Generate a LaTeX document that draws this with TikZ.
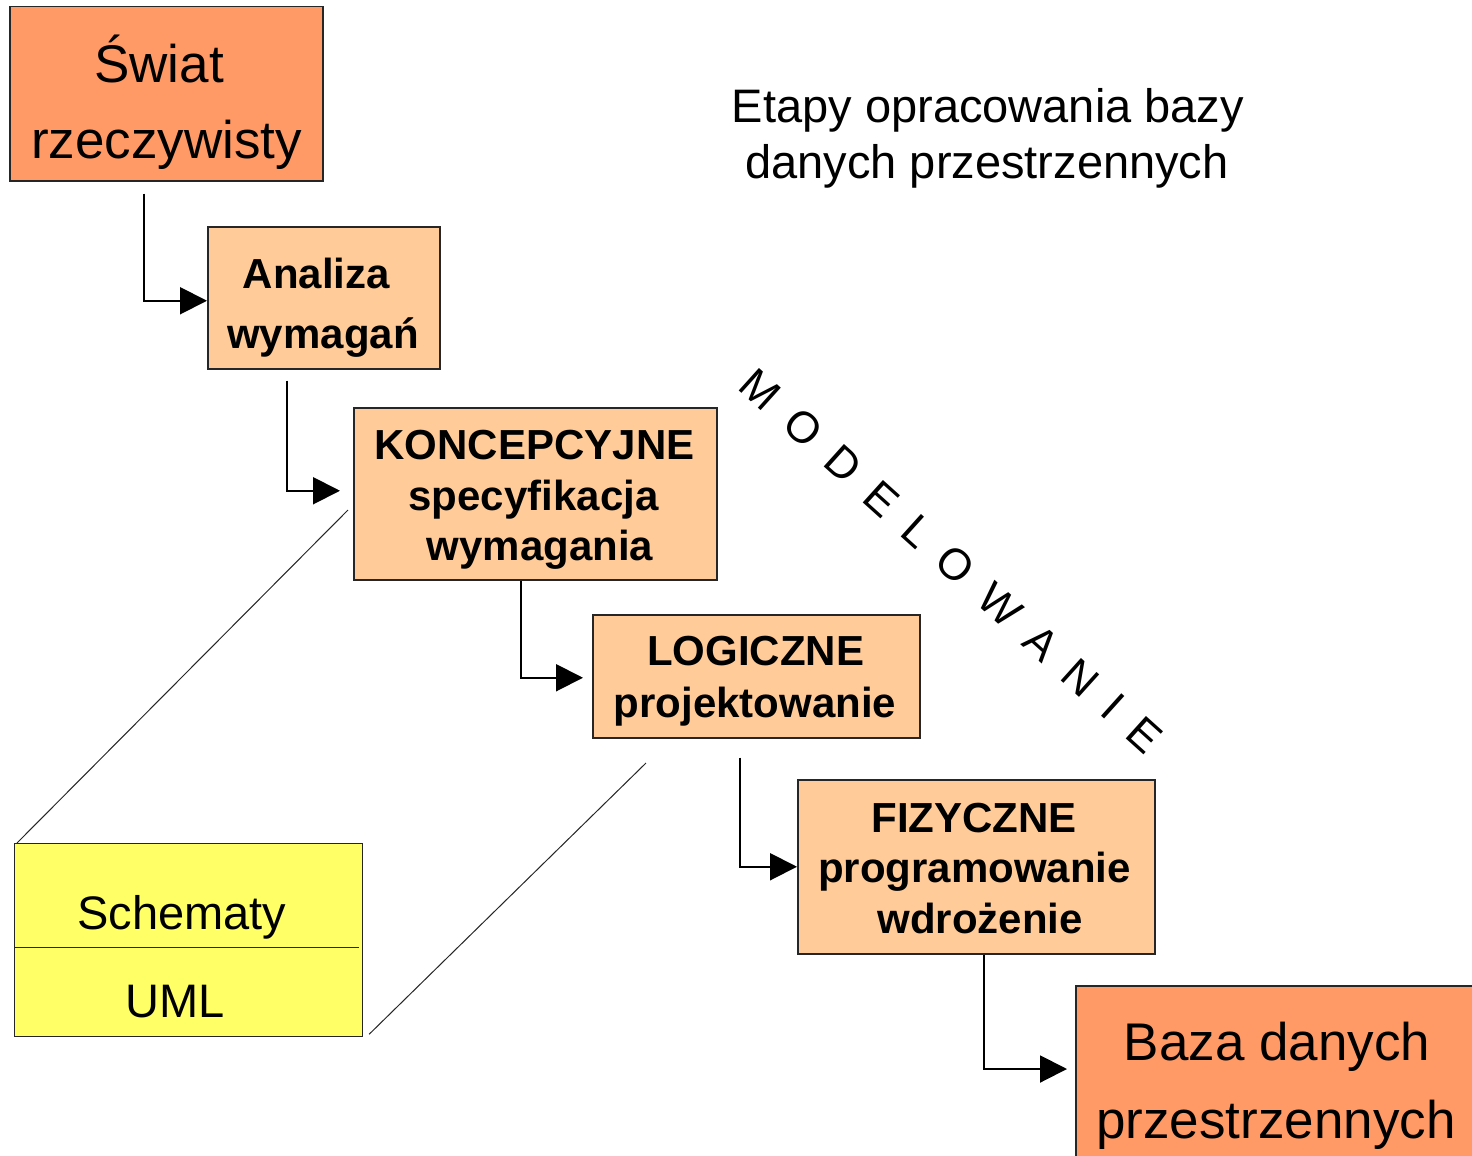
\documentclass[tikz,border=0pt]{standalone}
\usepackage{fontspec}
\setmainfont{Liberation Sans}
\usetikzlibrary{arrows.meta}
\definecolor{darkor}{HTML}{FF9966}
\definecolor{lightor}{HTML}{FFCC99}
\definecolor{yel}{HTML}{FFFF66}
\newcommand\mgap{\hspace{21.4pt}}
\tikzset{
  boxbase/.style={draw=black!85, line width=1.5pt, anchor=north west, inner sep=0pt, rectangle},
  darkbox/.style={boxbase, fill=darkor},
  lightbox/.style={boxbase, fill=lightor},
  yelbox/.style={boxbase, fill=yel, line width=1.2pt},
  conn/.style={line width=2pt, black, -{Triangle[length=27pt,width=27pt]}},
  thin/.style={line width=1pt, black!85},
  bigtxt/.style={anchor=base, inner sep=0pt, font=\fontsize{53}{60}\selectfont},
  boldtxt/.style={anchor=base, inner sep=0pt, font=\fontsize{42}{50}\selectfont\bfseries},
  titletxt/.style={anchor=base, inner sep=0pt, font=\fontsize{47}{56}\selectfont},
  yeltxt/.style={anchor=base, inner sep=0pt, font=\fontsize{47}{56}\selectfont},
}
\begin{document}
\begin{tikzpicture}[x=1pt,y=-1pt]
\useasboundingbox (0,0) rectangle (1472,1156);
\clip (0,0) rectangle (1472,1156);
\fill[white] (0,0) rectangle (1472,1156);

% boxes
\node[darkbox, minimum width=313pt, minimum height=174pt] (swiat) at (9,6) {};
\node[lightbox, minimum width=232pt, minimum height=142pt] (analiza) at (207,226) {};
\node[lightbox, minimum width=363pt, minimum height=172pt] (konc) at (353,407) {};
\node[lightbox, minimum width=327pt, minimum height=123pt] (logic) at (592,614) {};
\node[lightbox, minimum width=357pt, minimum height=174pt] (fiz) at (797,779) {};
\node[darkbox, minimum width=420pt, minimum height=250pt] (baza) at (1075,985) {};
\node[yelbox, minimum width=348pt, minimum height=193pt] (yellow) at (14,843) {};

% texts
\node[bigtxt] (t-sw1) at (159,82) {Świat};
\node[bigtxt] (t-sw2) at (166.5,158) {rzeczywisty};
\node[boldtxt] (t-an1) at (316.5,288) {Analiza};
\node[boldtxt] (t-an2) at (323,348) {wymagań};
\node[boldtxt] (t-ko1) at (534.5,459) {KONCEPCYJNE};
\node[boldtxt] (t-ko2) at (533.5,510) {specyfikacja};
\node[boldtxt] (t-ko3) at (540,560) {wymagania};
\node[boldtxt] (t-lo1) at (755.5,665) {LOGICZNE};
\node[boldtxt] (t-lo2) at (755,717) {projektowanie};
\node[boldtxt] (t-fi1) at (974,832) {FIZYCZNE};
\node[boldtxt] (t-fi2) at (974.5,882) {programowanie};
\node[boldtxt] (t-fi3) at (980,933) {wdrożenie};
\node[bigtxt] (t-ba1) at (1277,1060) {Baza danych};
\node[bigtxt] (t-ba2) at (1276,1138) {przestrzennych};
\node[titletxt] (t-ti1) at (988,122) {Etapy opracowania bazy};
\node[titletxt] (t-ti2) at (987,178) {danych przestrzennych};
\node[yeltxt] (t-ye1) at (182,929) {Schematy};
\node[yeltxt] (t-ye2) at (175.5,1017) {UML};

% divider in yellow box
\draw[thin] ([yshift=-104pt]yellow.north west) -- ([xshift=-4pt,yshift=-104pt]yellow.north east);

% MODELOWANIE
\node[rotate=-42, inner sep=0pt, font=\fontsize{44}{50}\selectfont] (model) at (951,561)
  {M\mgap O\mgap D\mgap E\mgap L\mgap O\mgap W\mgap A\mgap N\mgap I\mgap E};

% connectors
\draw[conn] ([xshift=135pt,yshift=-12pt]swiat.south west) |- ([yshift=-3pt]analiza.west);
\draw[conn] ([xshift=80pt,yshift=-11pt]analiza.south west) |- ([xshift=-13pt,yshift=3pt]konc.west);
\draw[conn] ([xshift=168pt]konc.south west) |- ([xshift=-9pt,yshift=-1.5pt]logic.west);
\draw[conn] ([xshift=148pt,yshift=-19pt]logic.south west) |- (fiz.west);
\draw[conn] ([xshift=187pt]fiz.south west) |- ([xshift=-8pt,yshift=-84pt]baza.north west);

% thin diagonal lines
\coordinate (l1end) at (348,510);
\coordinate (l2end) at (646,763);
\draw[thin] ([xshift=3pt]yellow.north west) -- (l1end);
\draw[thin] ([xshift=6pt,yshift=3pt]yellow.south east) -- (l2end);
\end{tikzpicture}
\end{document}
